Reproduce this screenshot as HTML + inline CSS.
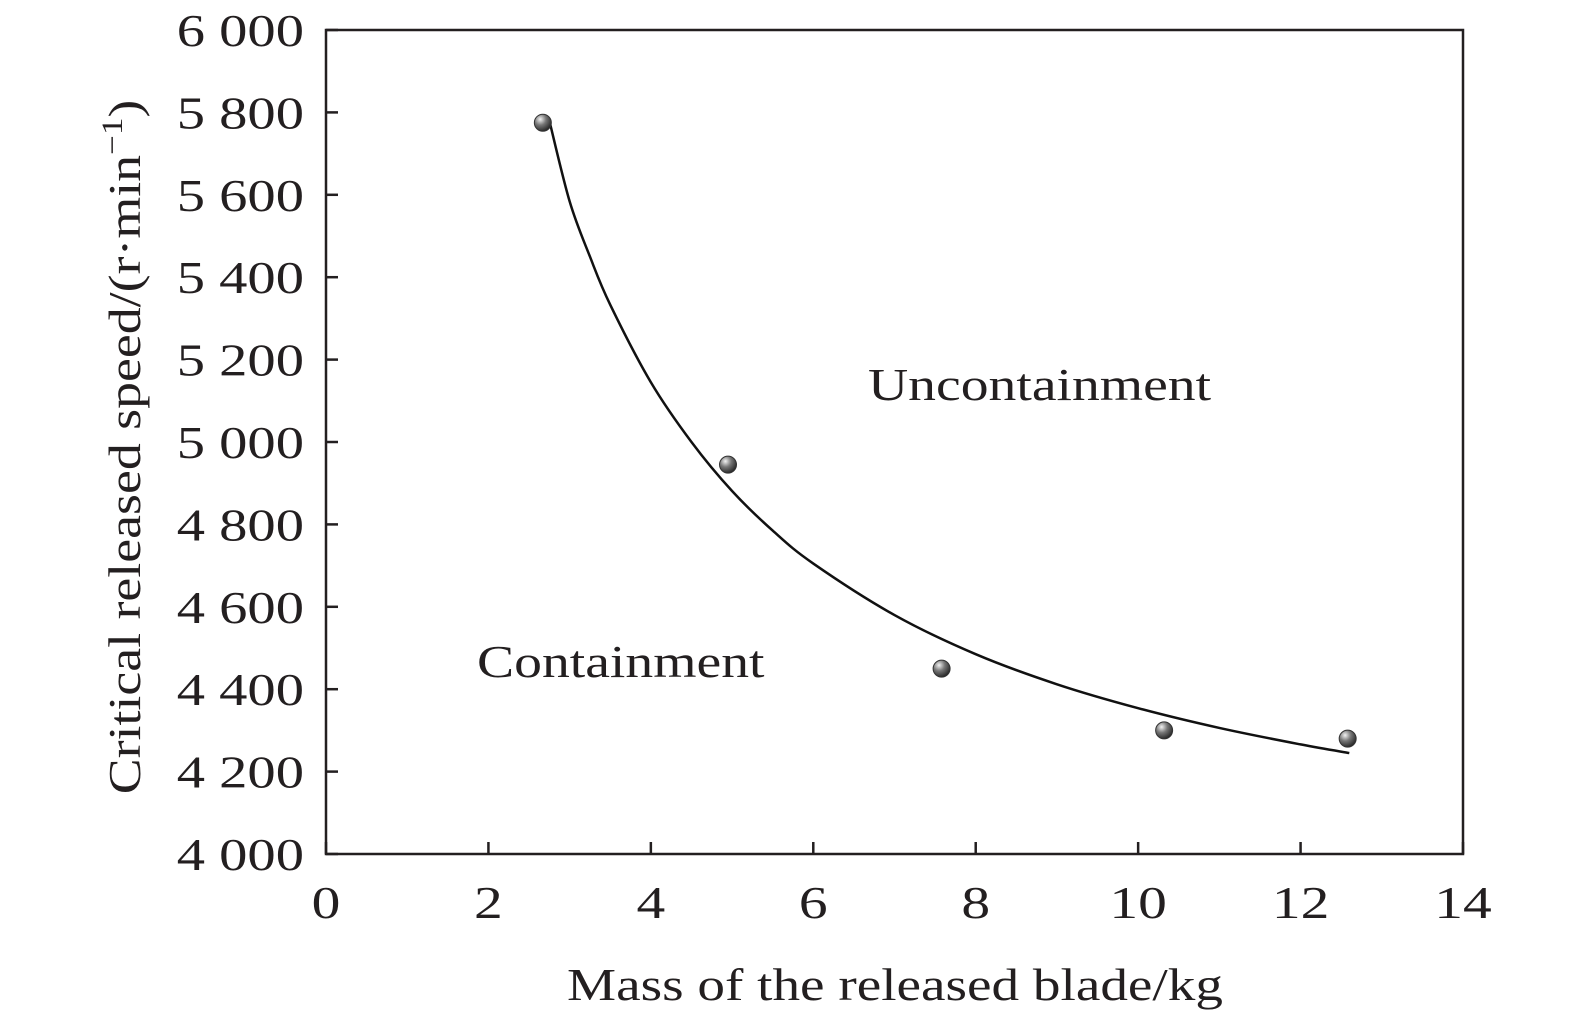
<!DOCTYPE html>
<html><head><meta charset="utf-8"><style>
html,body{margin:0;padding:0;background:#fff;}
svg text{font-family:"Liberation Serif",serif;fill:#231f20;}
</style></head><body>
<svg id="chart" width="1575" height="1022" viewBox="0 0 1575 1022" xmlns="http://www.w3.org/2000/svg">
<defs>
<radialGradient id="ball" cx="0.35" cy="0.3" r="0.75">
<stop offset="0" stop-color="#f2f2f2"/><stop offset="0.45" stop-color="#777"/><stop offset="1" stop-color="#222"/>
</radialGradient>
</defs>
<g id="axes"></g>
<g id="marks"></g>
<text transform="translate(868,400) scale(1.21,1)" font-size="46">Uncontainment</text>
<text transform="translate(477,677) scale(1.21,1)" font-size="46">Containment</text>
<text transform="translate(895,1000) scale(1.2,1)" font-size="46" text-anchor="middle">Mass of the released blade/kg</text>
<text transform="translate(140,447) rotate(-90) scale(1.17,1)" font-size="46" text-anchor="middle">Critical released speed/(r·min<tspan font-size="30" dy="-18">−1</tspan><tspan dy="18">)</tspan></text>
</svg>
<script>
const xTicks=[0,2,4,6,8,10,12,14];
const yTicks=[4000,4200,4400,4600,4800,5000,5200,5400,5600,5800,6000];
const yTickLabels=["4 000","4 200","4 400","4 600","4 800","5 000","5 200","5 400","5 600","5 800","6 000"];
const pointX=[2.67,4.95,7.58,10.32,12.58];
const pointY=[5775,4945,4450,4300,4280];
const curveX=[2.75,3,3.25,3.5,4,4.5,5,5.5,6,7,8,9,10,11,12,12.6];
const curveY=[5780,5584,5450,5333,5145,5000,4881,4785,4705,4580,4485,4412,4354,4306,4266,4245];
const L=326,R=1463,T=30,B=854;
const sx=v=>L+(v-0)/(14-0)*(R-L);
const sy=v=>B-(v-4000)/(6000-4000)*(B-T);
const NS="http://www.w3.org/2000/svg";
const axes=document.getElementById('axes'),marks=document.getElementById('marks');
function mk(tag,attrs,parent){const e=document.createElementNS(NS,tag);for(const k in attrs)e.setAttribute(k,attrs[k]);parent.appendChild(e);return e;}
const frame=mk('rect',{x:L,y:T,width:R-L,height:B-T,fill:'none',stroke:'#231f20','stroke-width':2.5},axes);


xTicks.forEach(t=>{
 const ln=mk('line',{x1:sx(t),x2:sx(t),y1:B,y2:B-12,stroke:'#231f20','stroke-width':2.5},axes);
 
 
 const tx=mk('text',{transform:`translate(${sx(t)},918) scale(1.25,1)`,'font-size':46,'text-anchor':'middle'},axes);tx.textContent=t;
 
 
});
yTicks.forEach((t,i)=>{
 const ln=mk('line',{x1:L,x2:L+12,y1:sy(t),y2:sy(t),stroke:'#231f20','stroke-width':2.5},axes);
 
 
 const tx=mk('text',{transform:`translate(304,${sy(t)+16}) scale(1.23,1)`,'font-size':46,'text-anchor':'end'},axes);tx.textContent=yTickLabels[i];
 
 
});
const P=curveX.map((x,i)=>[sx(x),sy(curveY[i])]);
let d=`M${P[0][0]},${P[0][1]}`;
for(let i=0;i<P.length-1;i++){
 const p0=P[Math.max(0,i-1)],p1=P[i],p2=P[i+1],p3=P[Math.min(P.length-1,i+2)];
 d+=` C${p1[0]+(p2[0]-p0[0])/6},${p1[1]+(p2[1]-p0[1])/6} ${p2[0]-(p3[0]-p1[0])/6},${p2[1]-(p3[1]-p1[1])/6} ${p2[0]},${p2[1]}`;
}
const curve=mk('path',{d:d,fill:'none',stroke:'#111','stroke-width':2.5},marks);


pointX.forEach((x,i)=>{
 const c=mk('circle',{cx:sx(x),cy:sy(pointY[i]),r:8.5,fill:'url(#ball)',stroke:'#333','stroke-width':1},marks);
 
 
});
</script>
</body></html>
